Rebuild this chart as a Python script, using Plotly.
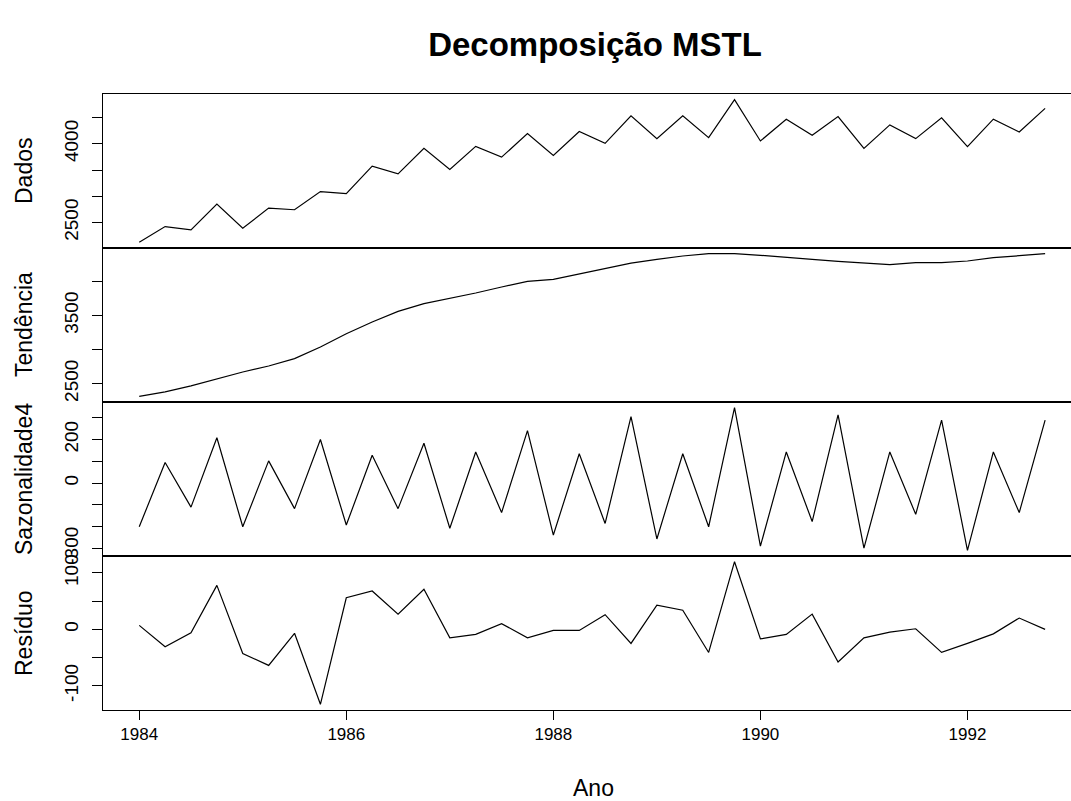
import plotly.graph_objects as go
from plotly.subplots import make_subplots

# ---- data (quarterly, 1984 Q1 .. 1992 Q4) ----
tempo = [1984.00, 1984.25, 1984.50, 1984.75, 1985.00, 1985.25, 1985.50, 1985.75,
         1986.00, 1986.25, 1986.50, 1986.75, 1987.00, 1987.25, 1987.50, 1987.75,
         1988.00, 1988.25, 1988.50, 1988.75, 1989.00, 1989.25, 1989.50, 1989.75,
         1990.00, 1990.25, 1990.50, 1990.75, 1991.00, 1991.25, 1991.50, 1991.75,
         1992.00, 1992.25, 1992.50, 1992.75]

dados = [2123, 2423, 2359, 2851, 2391, 2775, 2743, 3088,
         3050, 3573, 3427, 3912, 3510, 3950, 3745, 4193,
         3778, 4232, 4008, 4532, 4098, 4532, 4117, 4839,
         4053, 4468, 4161, 4519, 3912, 4359, 4098, 4494,
         3944, 4468, 4225, 4673]

tendencia = [2314, 2378, 2466, 2573, 2671, 2759, 2867, 3038,
             3233, 3405, 3561, 3674, 3747, 3830, 3918, 4001,
             4031, 4114, 4187, 4270, 4324, 4373, 4407, 4407,
             4383, 4348, 4324, 4295, 4270, 4246, 4275, 4275,
             4300, 4348, 4378, 4407]

sazonalidade = [-200, 95, -110, 208, -200, 102, -117, 200,
                -192, 128, -117, 183, -207, 143, -135, 241,
                -238, 135, -185, 305, -256, 135, -200, 346,
                -289, 143, -176, 313, -298, 143, -143, 289,
                -308, 143, -135, 289]

residuo = [7, -31, -6, 78, -43, -64, -7, -133,
           56, 68, 27, 71, -15, -9, 10, -15,
           -2, -2, 26, -25, 43, 34, -41, 120,
           -17, -9, 27, -58, -15, -5, 1, -41,
           -25, -8, 20, 0]

painel_nomes = ["Dados", "Tendência", "Sazonalidade4", "Resíduo"]
series = [dados, tendencia, sazonalidade, residuo]

y_ticks = [[2500, 3000, 3500, 4000, 4500],
           [2500, 3000, 3500, 4000],
           [-300, -200, -100, 0, 100, 200, 300],
           [-100, -50, 0, 50, 100]]
y_ticklabels = [["2500", "", "", "4000", ""],
                ["2500", "", "3500", ""],
                ["-300", "", "", "0", "", "200", ""],
                ["-100", "", "0", "", "100"]]

x_ticks = [1984, 1986, 1988, 1990, 1992]
x_ticklabels = ["1984", "1986", "1988", "1990", "1992"]
x_visible_end = 1993.0

titulo = "Decomposição MSTL"
x_titulo = "Ano"

# ---- figure ----
W, H = 1071, 801
ML, MR, MT, MB = 103, 0, 94, 91
FONT = "Liberation Sans, Arial, sans-serif"

fig = make_subplots(rows=4, cols=1, shared_xaxes=True, vertical_spacing=0)

for i, s in enumerate(series):
    fig.add_trace(go.Scatter(x=tempo, y=s, mode="lines",
                             line=dict(color="black", width=1.2),
                             showlegend=False, hoverinfo="skip"),
                  row=i + 1, col=1)

span_x = tempo[-1] - tempo[0]
x_range = [tempo[0] - 0.04 * span_x, x_visible_end]

for i, s in enumerate(series):
    lo, hi = min(s), max(s)
    pad = 0.04 * (hi - lo)
    yax = dict(range=[lo - pad, hi + pad], tickmode="array",
               tickvals=y_ticks[i], ticktext=y_ticklabels[i],
               ticks="outside", ticklen=10, tickwidth=1, tickcolor="black",
               tickangle=-90, ticklabelstandoff=6,
               showline=True, linecolor="black", linewidth=1,
               mirror=False, showgrid=False, zeroline=False,
               tickfont=dict(family=FONT, size=19, color="black"))
    fig.update_yaxes(yax, row=i + 1, col=1)
    last = (i == 3)
    xax = dict(range=x_range, showline=True, mirror=True, linecolor="black",
               linewidth=1, showgrid=False, zeroline=False,
               tickmode="array", tickvals=x_ticks, ticktext=x_ticklabels,
               ticks="outside" if last else "", ticklen=9, tickwidth=1,
               tickcolor="black", showticklabels=last,
               tickfont=dict(family=FONT, size=17, color="black"))
    fig.update_xaxes(xax, row=i + 1, col=1)

# y axis titles as annotations
plot_h = H - MT - MB
for i, name in enumerate(painel_nomes):
    yc = 1 - (i + 0.5) / 4
    fig.add_annotation(text=name, xref="paper", yref="paper",
                       x=(24 - ML) / (W - ML - MR), y=yc, xanchor="center",
                       yanchor="middle", textangle=-90, showarrow=False,
                       font=dict(family=FONT, size=23, color="black"))

fig.add_annotation(text=x_titulo, xref="paper", yref="paper",
                   x=(593 - ML) / (W - ML - MR), y=-(788 - (H - MB)) / plot_h,
                   xanchor="center", yanchor="middle", showarrow=False,
                   font=dict(family=FONT, size=23, color="black"))

fig.update_layout(
    width=W, height=H,
    margin=dict(l=ML, r=MR, t=MT, b=MB),
    paper_bgcolor="white", plot_bgcolor="white",
    title=dict(text="<b>" + titulo + "</b>", x=595 / W, xanchor="center",
               y=1 - 44 / H, yanchor="middle",
               font=dict(family=FONT, size=33, color="black")),
)

fig.write_html("out.html")
